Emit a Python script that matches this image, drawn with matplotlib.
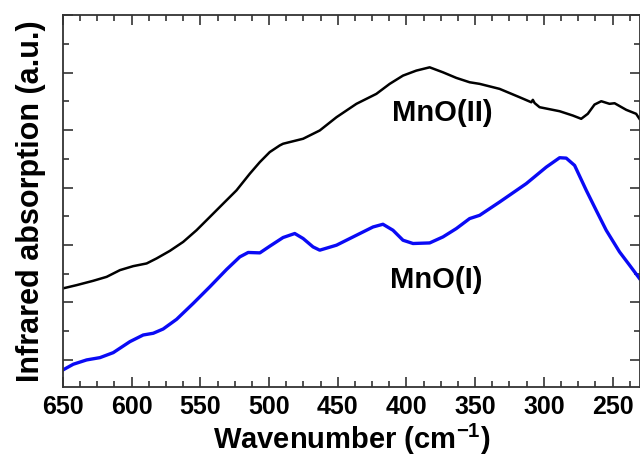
import matplotlib
matplotlib.use("Agg")
import matplotlib.pyplot as plt
from matplotlib.ticker import MultipleLocator, NullFormatter

# MnO(II) spectrum (black)
wn_ii = [650, 640.0, 628.0, 618.2, 608.5, 598.9, 589.1, 581.9, 572.2, 562.5,
         552.8, 543.1, 533.4, 523.7, 514.0, 506.7, 499.5, 492.2, 489.8, 475.2,
         463.1, 450.9, 436.4, 421.9, 412.2, 402.5, 392.8, 383.1, 373.4, 363.7,
         354.0, 346.7, 332.2, 317.6, 309.1, 308.0, 306.7, 303.1, 288.5, 278.9,
         272.8, 268.0, 263.1, 258.2, 252.2, 248.5, 240.0, 232.8, 230.4]
ab_ii = [1.245, 1.302, 1.377, 1.446, 1.563, 1.632, 1.679, 1.766, 1.898, 2.054,
         2.257, 2.488, 2.720, 2.951, 3.241, 3.443, 3.617, 3.733, 3.762, 3.849,
         3.993, 4.224, 4.457, 4.630, 4.804, 4.948, 5.035, 5.092, 5.005, 4.908,
         4.832, 4.804, 4.717, 4.571, 4.484, 4.526, 4.470, 4.398, 4.328, 4.253,
         4.196, 4.283, 4.444, 4.502, 4.457, 4.467, 4.352, 4.283, 4.196]

# MnO(I) spectrum (blue)
wn_i = [650, 642.5, 632.8, 623.1, 613.4, 601.3, 591.6, 584.3, 577.1, 567.3,
        555.2, 543.1, 530.9, 521.3, 515.2, 506.7, 499.5, 489.8, 481.3, 475.2,
        468.0, 463.1, 450.9, 436.4, 424.3, 417.1, 409.8, 402.5, 395.2, 383.1,
        373.4, 363.7, 354.0, 346.7, 332.2, 312.8, 298.2, 288.5, 283.7, 277.6,
        269.1, 261.9, 254.6, 244.9, 237.6, 230.4]
ab_i = [-0.174, -0.075, 0.000, 0.040, 0.127, 0.318, 0.434, 0.464, 0.538, 0.707,
        0.984, 1.273, 1.575, 1.793, 1.870, 1.863, 1.979, 2.130, 2.200, 2.113,
        1.967, 1.910, 1.997, 2.170, 2.314, 2.361, 2.257, 2.083, 2.026, 2.036,
        2.141, 2.286, 2.460, 2.517, 2.748, 3.068, 3.356, 3.519, 3.512, 3.385,
        2.951, 2.604, 2.257, 1.880, 1.649, 1.418]

label_ii = "MnO(II)"
label_i = "MnO(I)"

plt.rcParams["mathtext.fontset"] = "custom"
plt.rcParams["mathtext.bf"] = "Liberation Sans:bold"
plt.rcParams["mathtext.rm"] = "Liberation Sans:bold"

fig = plt.figure(figsize=(6.4, 4.59), dpi=100)
ax = fig.add_axes([0.0984, 0.157, 0.9016, 0.810])

ax.plot(wn_ii, ab_ii, color="black", lw=1.8, solid_joinstyle="round")
ax.plot(wn_i, ab_i, color="#0a0af5", lw=2.4, solid_joinstyle="round")

ax.set_xlim(650, 230)
ax.set_ylim(-0.47, 6.0)

ax.xaxis.set_major_locator(MultipleLocator(50))
ax.xaxis.set_minor_locator(MultipleLocator(12.5))
ax.yaxis.set_major_locator(MultipleLocator(1))
ax.yaxis.set_minor_locator(MultipleLocator(0.5))
ax.yaxis.set_major_formatter(NullFormatter())

ax.tick_params(which="both", direction="in", top=True, right=True,
               color="#333333", width=1.2)
ax.tick_params(which="major", length=7)
ax.tick_params(which="minor", length=4)
for lab in ax.get_xticklabels():
    lab.set_fontfamily("Liberation Sans")
    lab.set_fontweight("bold")
    lab.set_fontsize(18)
ax.tick_params(axis="x", pad=6)

for s in ax.spines.values():
    s.set_color("#333333")
    s.set_linewidth(1.3)

ax.set_xlabel("Wavenumber (cm$^{\\mathbf{-1}}$)", fontfamily="Liberation Sans",
              fontweight="bold", fontsize=21, labelpad=2)
ax.set_ylabel("Infrared absorption (a.u.)", fontfamily="Liberation Sans",
              fontweight="bold", fontsize=22, labelpad=9)

ax.text(373.6, 4.29, label_ii, ha="center", va="center",
        fontfamily="Liberation Sans", fontweight="bold", fontsize=21)
ax.text(378.4, 1.39, label_i, ha="center", va="center",
        fontfamily="Liberation Sans", fontweight="bold", fontsize=21)

fig.savefig("out.png", dpi=100)
